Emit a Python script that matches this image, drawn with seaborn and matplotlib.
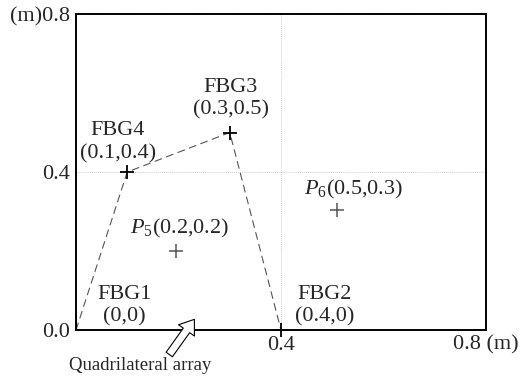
import matplotlib
matplotlib.use("Agg")
import matplotlib.pyplot as plt
import seaborn as sns
import pandas as pd

# ---- data ----
sensor_names = ["FBG1", "FBG2", "FBG3", "FBG4"]
sensor_x = [0.0, 0.4, 0.3, 0.1]
sensor_y = [0.0, 0.0, 0.5, 0.4]

# quadrilateral path order (FBG1 -> FBG4 -> FBG3 -> FBG2)
path_names = ["FBG1", "FBG4", "FBG3", "FBG2"]
# sensors whose cross marker is visible
marked_names = ["FBG2", "FBG3", "FBG4"]

point_names = ["P5", "P6"]
point_x = [0.195, 0.51]
point_y = [0.2, 0.305]

tick_vals = [0.0, 0.4, 0.8]
x_tick_labels = ["", "0.4", "0.8 (m)"]
y_tick_labels = ["0.0", "0.4", "(m)0.8"]

sns.set_style("white")
plt.rcParams["font.family"] = ["Liberation Serif", "DejaVu Serif"]
plt.rcParams["mathtext.fontset"] = "custom"
plt.rcParams["mathtext.it"] = "Liberation Serif:italic"
plt.rcParams["mathtext.rm"] = "Liberation Serif"

fig = plt.figure(figsize=(5.21, 3.79), dpi=100)
ax = fig.add_axes([76/521, 1-330/379, 410/521, 316/379])

sensors = pd.DataFrame({"name": sensor_names, "x": sensor_x, "y": sensor_y}).set_index("name")
path = sensors.loc[path_names].reset_index()
marked = sensors.loc[marked_names].reset_index()
points = pd.DataFrame({"name": point_names, "x": point_x, "y": point_y})

# dashed quadrilateral
sns.lineplot(data=path, x="x", y="y", sort=False, ax=ax, color="#555555",
             linestyle=(0, (7, 4)), linewidth=0.8, estimator=None)

# sensor markers
sns.scatterplot(data=marked, x="x", y="y", marker="+", s=90,
                color="black", linewidth=1.3, ax=ax, zorder=5, clip_on=False)
# test points
sns.scatterplot(data=points, x="x", y="y", marker="+", s=90,
                color="#555555", linewidth=1.1, ax=ax, zorder=5)

ax.set_xlim(0, 0.8)
ax.set_ylim(0, 0.8)
ax.set_xticks(tick_vals)
ax.set_yticks(tick_vals)
ax.set_xticklabels(x_tick_labels, fontsize=16)
ax.set_yticklabels(y_tick_labels, fontsize=16)
ax.tick_params(axis="both", length=0, pad=4)
ax.set_xlabel("")
ax.set_ylabel("")
ax.grid(True, color="#cfcfcf", linestyle=(0, (1, 1)), linewidth=0.7)
for sp in ax.spines.values():
    sp.set_color("black")
    sp.set_linewidth(1.4)

fs = 16
ls = 1.25
# sensor labels
ax.text(0.302, 0.585, "FBG3\n(0.3,0.5)", ha="center", va="center", fontsize=fs, linespacing=ls)
ax.text(0.082, 0.475, "FBG4\n(0.1,0.4)", ha="center", va="center", fontsize=fs, linespacing=ls)
ax.text(0.095, 0.062, "FBG1\n(0,0)", ha="center", va="center", fontsize=fs, linespacing=ls)
ax.text(0.485, 0.062, "FBG2\n(0.4,0)", ha="center", va="center", fontsize=fs, linespacing=ls)

# point labels
ax.text(0.202, 0.258, r"$P_{5}$(0.2,0.2)", ha="center", va="center", fontsize=fs)
ax.text(0.542, 0.355, r"$P_{6}$(0.5,0.3)", ha="center", va="center", fontsize=fs)

# hollow arrow + caption
ax.annotate("", xy=(0.231, 0.027), xytext=(0.182, -0.062), xycoords="data",
            textcoords="data", annotation_clip=False,
            arrowprops=dict(arrowstyle="simple,head_length=0.7,head_width=1.0,tail_width=0.4",
                            fc="white", ec="black", lw=0.8, mutation_scale=14,
                            shrinkA=0, shrinkB=0))
fig.text(140/521, 1-365/379, "Quadrilateral array", ha="center", va="center", fontsize=13.5)

fig.savefig("out.png", dpi=100)
